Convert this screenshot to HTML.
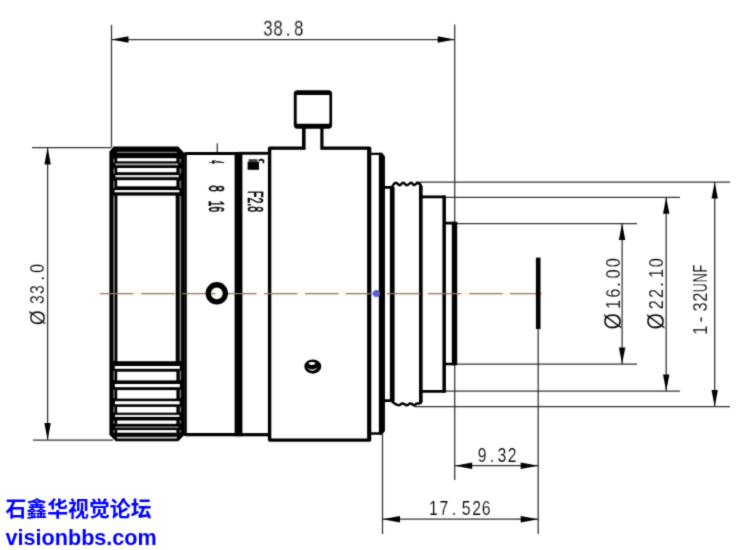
<!DOCTYPE html>
<html lang="zh">
<head>
<meta charset="utf-8">
<title>Lens drawing</title>
<style>
html,body{margin:0;padding:0;background:#fff;}
body{width:754px;height:550px;overflow:hidden;}
svg{display:block;will-change:transform;}
</style>
</head>
<body>
<svg width="754" height="550" viewBox="0 0 754 550">
<defs><filter id="soft" x="0" y="0" width="754" height="550" filterUnits="userSpaceOnUse" color-interpolation-filters="sRGB"><feConvolveMatrix order="3" kernelMatrix="9 42 9 42 196 42 9 42 9" divisor="400" edgeMode="duplicate" preserveAlpha="false"/></filter></defs>
<rect x="0" y="0" width="754" height="550" fill="#fff"/>
<g filter="url(#soft)">
<g id="dims">
<line x1="111.5" y1="24.8" x2="111.5" y2="147.5" stroke="#303030" stroke-width="1.25" />
<line x1="454.7" y1="24.6" x2="454.7" y2="480" stroke="#303030" stroke-width="1.25" />
<line x1="111.5" y1="39.5" x2="454.7" y2="39.5" stroke="#303030" stroke-width="1.25" />
<polygon points="111.5,39.5 128.5,36.3 128.5,42.7" fill="#000"/>
<polygon points="454.7,39.5 437.7,36.3 437.7,42.7" fill="#000"/>
<line x1="32" y1="147.5" x2="111" y2="147.5" stroke="#303030" stroke-width="1.25" />
<line x1="33" y1="440" x2="113" y2="440" stroke="#303030" stroke-width="1.25" />
<line x1="47.6" y1="147.5" x2="47.6" y2="440" stroke="#303030" stroke-width="1.25" />
<polygon points="47.6,147.5 44.4,164.5 50.800000000000004,164.5" fill="#000"/>
<polygon points="47.6,440 44.4,423 50.800000000000004,423" fill="#000"/>
<line x1="416" y1="182.1" x2="730" y2="182.1" stroke="#303030" stroke-width="1.25" />
<line x1="445" y1="197.3" x2="680" y2="197.3" stroke="#303030" stroke-width="1.25" />
<line x1="455" y1="223.6" x2="637" y2="223.6" stroke="#303030" stroke-width="1.25" />
<line x1="455" y1="364" x2="637" y2="364" stroke="#303030" stroke-width="1.25" />
<line x1="445" y1="391.1" x2="680" y2="391.1" stroke="#303030" stroke-width="1.25" />
<line x1="414.5" y1="406.5" x2="730" y2="406.5" stroke="#303030" stroke-width="1.25" />
<line x1="622.1" y1="223.6" x2="622.1" y2="364" stroke="#303030" stroke-width="1.25" />
<polygon points="622.1,223.6 618.9,240.1 625.3000000000001,240.1" fill="#000"/>
<polygon points="622.1,364 618.9,347.5 625.3000000000001,347.5" fill="#000"/>
<line x1="666.2" y1="197.3" x2="666.2" y2="391" stroke="#303030" stroke-width="1.25" />
<polygon points="666.2,197.3 663.0,213.8 669.4000000000001,213.8" fill="#000"/>
<polygon points="666.2,391 663.0,374.5 669.4000000000001,374.5" fill="#000"/>
<line x1="714.7" y1="182.1" x2="714.7" y2="406.5" stroke="#303030" stroke-width="1.25" />
<polygon points="714.7,182.1 711.5,198.6 717.9000000000001,198.6" fill="#000"/>
<polygon points="714.7,406.5 711.5,390.0 717.9000000000001,390.0" fill="#000"/>
<line x1="382.5" y1="434" x2="382.5" y2="534" stroke="#303030" stroke-width="1.25" />
<line x1="538.2" y1="329" x2="538.2" y2="534" stroke="#303030" stroke-width="1.25" />
<line x1="454.7" y1="465.7" x2="538.2" y2="465.7" stroke="#303030" stroke-width="1.25" />
<polygon points="454.7,465.7 472.2,462.5 472.2,468.9" fill="#000"/>
<polygon points="538.2,465.7 520.7,462.5 520.7,468.9" fill="#000"/>
<line x1="382.5" y1="519.2" x2="538.2" y2="519.2" stroke="#303030" stroke-width="1.25" />
<polygon points="382.5,519.2 400.0,516.0 400.0,522.4000000000001" fill="#000"/>
<polygon points="538.2,519.2 520.7,516.0 520.7,522.4000000000001" fill="#000"/>
<line x1="217.3" y1="143.3" x2="217.3" y2="152.5" stroke="#303030" stroke-width="1.25" />
</g>
<g id="ring">
<path d="M109.4,151.4 L113.6,146.4 L178.2,146.4 L183.8,152.4 L186.8,152.4 L186.8,435.8 L183.6,435.8 L178.2,441.2 L115.8,441.2 L109.4,434.8 Z" fill="#000"/>
<rect x="113.2" y="196" width="1.7" height="165" fill="#7a7a7a" />
<rect x="179.4" y="196" width="1.8" height="165" fill="#7a7a7a" />
<rect x="184.0" y="156" width="0.7" height="276" fill="#262626" />
<rect x="113.2" y="158.6" width="1.6" height="4.0" fill="#6e6e6e" />
<rect x="179.5" y="158.6" width="1.7" height="4.0" fill="#6e6e6e" />
<rect x="113.2" y="168.4" width="1.6" height="5.2" fill="#6e6e6e" />
<rect x="179.5" y="168.4" width="1.7" height="5.2" fill="#6e6e6e" />
<rect x="113.2" y="180.6" width="1.6" height="7.4" fill="#6e6e6e" />
<rect x="179.5" y="180.6" width="1.7" height="7.4" fill="#6e6e6e" />
<rect x="113.2" y="370.6" width="1.6" height="9.6" fill="#6e6e6e" />
<rect x="179.5" y="370.6" width="1.7" height="9.6" fill="#6e6e6e" />
<rect x="113.2" y="389.6" width="1.6" height="8.6" fill="#6e6e6e" />
<rect x="179.5" y="389.6" width="1.7" height="8.6" fill="#6e6e6e" />
<rect x="113.2" y="406.6" width="1.6" height="5.8" fill="#6e6e6e" />
<rect x="179.5" y="406.6" width="1.7" height="5.8" fill="#6e6e6e" />
<rect x="113.2" y="420.4" width="1.6" height="3.2" fill="#6e6e6e" />
<rect x="179.5" y="420.4" width="1.7" height="3.2" fill="#6e6e6e" />
<rect x="113.2" y="430" width="1.6" height="2.6" fill="#6e6e6e" />
<rect x="179.5" y="430" width="1.7" height="2.6" fill="#6e6e6e" />
<rect x="117.4" y="195.6" width="58.3" height="165.6" fill="#fff" />
<rect x="117.2" y="158.2" width="59.2" height="3.1" fill="#fff" />
<rect x="117.2" y="168" width="59.2" height="4.2" fill="#fff" />
<rect x="117.2" y="180.2" width="59.2" height="6.1" fill="#fff" />
<rect x="117" y="151.8" width="60" height="1.1" fill="#8a8a8a" />
<rect x="115.4" y="163.4" width="62.8" height="1.9" fill="#a8a8a8" />
<rect x="115.4" y="175" width="63.4" height="2.3" fill="#d8d8d8" />
<rect x="114.6" y="190.1" width="64.8" height="2.2" fill="#fff" />
<rect x="117.2" y="371.7" width="59.2" height="8.7" fill="#fff" />
<rect x="117.2" y="390.1" width="59.2" height="8.5" fill="#fff" />
<rect x="117.2" y="406.9" width="59.2" height="5.8" fill="#fff" />
<rect x="117.2" y="420.5" width="59.2" height="3.3" fill="#fff" />
<rect x="117.2" y="430.1" width="59.2" height="2.6" fill="#fff" />
<rect x="114.8" y="366" width="65.0" height="2.8" fill="#fff" />
<rect x="114.8" y="384" width="65.0" height="3.2" fill="#fff" />
<rect x="114.9" y="401.2" width="64.7" height="3.1" fill="#fff" />
<rect x="115" y="414.8" width="64.4" height="2.2" fill="#e6e6e6" />
<rect x="115.5" y="426.6" width="63.1" height="1.1" fill="#aaa" />
<rect x="117" y="436.7" width="60" height="2.0" fill="#b4b4b4" />
</g>
<g id="body" fill="none" stroke="#000" stroke-linejoin="round">
<path d="M185,153.5 L238,153.5" stroke-width="3"/>
<path d="M185,434.65 L238,434.65" stroke-width="3.1"/>
<line x1="238.5" y1="152" x2="238.5" y2="436.2" stroke="#000" stroke-width="7.8" />
<path d="M238,153.3 L270,153.3" stroke-width="2.9"/>
<path d="M238,434.7 L270,434.7" stroke-width="3.2"/>
</g>
<rect x="267.9" y="146.5" width="103.4" height="295.3" rx="1.8" ry="1.8" fill="#000"/>
<rect x="271.3" y="149.8" width="95.8" height="288.7" fill="#fff"/>
<rect x="302" y="126" width="21.5" height="22" fill="#000"/>
<rect x="305.6" y="124" width="14.7" height="26.4" fill="#fff"/>
<rect x="293.8" y="90.2" width="38.3" height="38.5" rx="3.6" ry="3.6" fill="#000"/>
<rect x="296.7" y="95" width="32.7" height="28.7" rx="0.6" ry="0.6" fill="#fff"/>
<g id="body2" fill="none" stroke="#000" stroke-linejoin="round">
<path d="M370,153.9 L381,153.9 M370,433.5 L381,433.5" stroke-width="2.4"/>
<path d="M378.85,152.8 L382.2,152.7 L384.95,156.6 L384.95,431 L382,434.7 L378.85,434.7 Z" fill="#000" stroke="none"/>
<path d="M382,187.4 L391.8,187.4 M382,400.6 L391.8,400.6" stroke-width="2.9"/>
<line x1="392.25" y1="187" x2="392.25" y2="401" stroke="#000" stroke-width="4.7" />
<path d="M392.2,188 L392.2,186.6 L394.4,183.4 L396,182.8 C397.8,182.8 397.8,185.2 399.6,185.2 C401.4,185.2 401.4,182.8 403.2,182.8 C405.0,182.8 405.0,185.2 406.8,185.2 C409.0,185.2 409.0,182.8 411.2,182.8 C412.7,182.8 412.7,185.1 414.2,185.1 C415.8,185.1 415.8,183 417.4,183 Q420.6,183.2 421,186.4 L421,402 Q420.6,404.2 417.2,403.4 C415.8,403.4 415.8,405.2 414.4,405.2 C412.4,405.2 412.4,403.4 410.4,403.4 C408.6,403.4 408.6,405.2 406.8,405.2 C404.6,405.2 404.6,403.4 402.4,403.4 C400.6,403.4 400.6,405.2 398.8,405.2 C397.2,405.2 397.2,404.2 395.6,404.2 L392.2,401.6 L392.2,400" stroke-width="2.5"/>
<line x1="420.75" y1="186" x2="420.75" y2="402.5" stroke="#000" stroke-width="3.5" />
<path d="M421,196.8 L444.15,196.8 M421,391.4 L444.15,391.4" stroke-width="2.8"/>
<line x1="444.15" y1="195.4" x2="444.15" y2="392.8" stroke="#000" stroke-width="3.5" />
<path d="M444.3,223.1 L454,223.1 M444.3,364 L454,364" stroke-width="2.7"/>
<line x1="454.5" y1="221.8" x2="454.5" y2="365.3" stroke="#000" stroke-width="5.4" />
</g>
<line x1="98" y1="293.6" x2="543" y2="293.6" stroke="#fffaf0" stroke-width="5" style="mix-blend-mode:multiply"/>
<line x1="100" y1="293.6" x2="541.5" y2="293.6" stroke="#8d7d70" stroke-width="1.1" stroke-dasharray="33.5 7.5"/>
<line x1="538.2" y1="257.6" x2="538.2" y2="329" stroke="#000" stroke-width="4.6" />
<circle cx="216.8" cy="293.3" r="8.55" fill="none" stroke="#000" stroke-width="5.3"/>
<ellipse cx="312.8" cy="366.6" rx="8.5" ry="7.1" fill="#000"/>
<ellipse cx="312" cy="363.5" rx="3.2" ry="1.4" fill="#fff"/>
<path d="M306.9,367.4 Q312.4,371.4 317.8,367.3 Q312.6,374.6 306.9,367.4 Z" fill="#e4e4e4"/>
<circle cx="376.5" cy="293.5" r="3.6" fill="#5561cc"/>
<g id="txt" font-family="'Liberation Sans', sans-serif" fill="#000" stroke="#fff" stroke-width="0.16" opacity="0.995">
<text transform="translate(0 35.7) scale(0.78 1)" font-size="21.4" x="337.57 350.52 366.26 377.06" y="0">38.8</text>
<text transform="translate(0 462.3) scale(0.78 1)" font-size="20.2" x="612.59 627.83 637.78 650.86" y="0">9.32</text>
<text transform="translate(0 515.2) scale(0.78 1)" font-size="20.2" x="550.03 563.35 579.37 591.84 605.41 617.65" y="0">17.526</text>
<text transform="translate(44.6 0) rotate(-90) scale(0.9 1)" font-size="21.5" x="-361.26" y="0">Ø</text>
<text transform="translate(44.0 0) rotate(-90) scale(0.78 1)" font-size="20.2" x="-389.85 -376.78 -359.6 -349.66" y="0">33.0</text>
<text transform="translate(620.8 0) rotate(-90) scale(0.92 1)" font-size="23" x="-358.2" y="0">Ø</text>
<text transform="translate(620.0 0) rotate(-90) scale(0.78 1)" font-size="21" x="-396.27 -381.81 -367.53 -357.12 -342.76" y="0">16.00</text>
<text transform="translate(664.0 0) rotate(-90) scale(0.92 1)" font-size="23" x="-358.2" y="0">Ø</text>
<text transform="translate(663.2 0) rotate(-90) scale(0.78 1)" font-size="21" x="-396.42 -382.06 -367.53 -356.27 -342.76" y="0">22.10</text>
<text transform="translate(707.2 0) rotate(-90) scale(0.78 1)" font-size="21" x="-429.09 -413.24 -399.24 -386.87" y="0">1-32</text>
<text transform="translate(707.2 0) rotate(-90) scale(0.6 1)" font-size="21" x="-487.0 -470.25 -454.19" y="0">UNF</text>
</g>
<g id="marks" font-family="'Liberation Sans', sans-serif" fill="#000" stroke="#000" stroke-width="0.55" stroke-linejoin="round" opacity="0.995">
<text transform="translate(208.6,160.6) rotate(90) scale(0.25,1)" vector-effect="non-scaling-stroke" font-size="22">4</text>
<text transform="translate(208.6,185.2) rotate(90) scale(0.54,1)" vector-effect="non-scaling-stroke" font-size="22">8</text>
<text transform="translate(208.6,200.8) rotate(90) scale(0.46,1)" vector-effect="non-scaling-stroke" font-size="22">16</text>
<text transform="translate(248,190.9) rotate(90) scale(0.47,1)" vector-effect="non-scaling-stroke" font-size="22.6">F2.8</text>
</g>
<g id="lock"><rect x="247.6" y="161.8" width="11.4" height="8" fill="#000"/><rect x="248.6" y="159.2" width="8.8" height="3" fill="#3c3c3c"/><path d="M258.6,160.6 L261.6,159.4 L263.4,160.4 L263.4,163.2" fill="none" stroke="#000" stroke-width="1.7"/></g>
<g id="wm" fill="#0000ff" font-weight="bold">
<text x="5.5" y="516" font-size="21" textLength="146" lengthAdjust="spacingAndGlyphs" font-family="'Liberation Sans', 'Noto Sans CJK SC', sans-serif">石鑫华视觉论坛</text>
<text x="5.5" y="544.6" font-size="21.5" textLength="151.3" lengthAdjust="spacingAndGlyphs" font-family="'Liberation Sans', sans-serif">visionbbs.com</text>
</g>
</g>
</svg>
</body>
</html>
